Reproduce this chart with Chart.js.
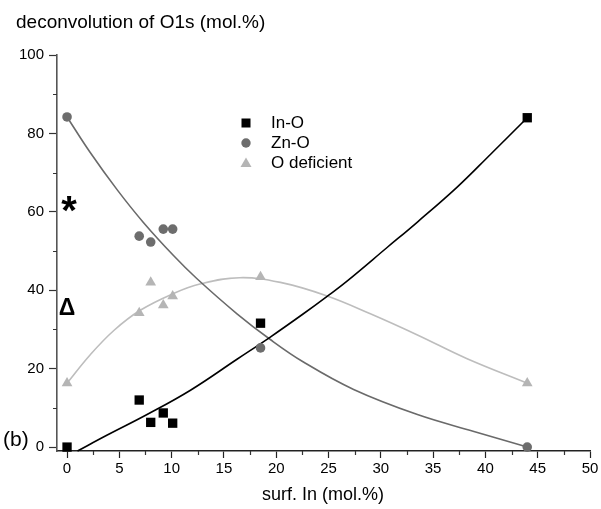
<!DOCTYPE html>
<html>
<head>
<meta charset="utf-8">
<script src="https://cdn.jsdelivr.net/npm/chart.js@4.4.1/dist/chart.umd.min.js"></script>
<style>
  html, body { margin: 0; padding: 0; background: #fff; }
  #wrap { width: 601px; height: 509px; position: relative; }
</style>
</head>
<body>
<div id="wrap"><canvas id="c" width="601" height="509"></canvas></div>
<script>
// ---- measured data (surf. In mol.%, O1s component mol.%) ----
const surfIn = [0, 6.9, 8.0, 9.2, 10.1, 18.5, 44.0];
const inO = [0, 12.0, 6.3, 8.7, 6.1, 31.6, 84.0];
const znO = [84.2, 53.8, 52.3, 55.6, 55.6, 25.3, 0];
const oDef = [16.3, 34.2, 42.0, 36.2, 38.5, 43.4, 16.3];

// ---- fitted curves, points ----
const inOFitX = [1.0, 3.8, 7.65, 11.8, 16.25, 19.4, 22.6, 24.9, 26.8, 30.6, 33.5, 37.3, 40.5, 44.0];
const inOFitY = [-1.0, 3.0, 8.3, 14.5, 22.4, 28.0, 34.0, 38.5, 42.4, 50.9, 57.4, 66.3, 74.7, 84.0];
const znOFitX = [0, 2.2, 4.8, 7.3, 10.2, 12.4, 16.25, 19.4, 22.6, 27.4, 33.5, 38.9, 44.0];
const znOFitY = [84.2, 75.2, 65.6, 57.3, 48.8, 43.0, 34.0, 27.5, 21.7, 14.7, 8.3, 4.0, 0];
const oDefFitX = [0, 2.2, 4.5, 7.0, 10.2, 12.7, 16.5, 20.4, 24.8, 29.0, 33.5, 38.2, 44.0];
const oDefFitY = [16.3, 23.5, 29.8, 34.9, 39.2, 41.6, 43.2, 42.0, 38.6, 34.0, 28.6, 22.6, 16.3];

// ---- axes ----
const xTicks = [0, 2.5, 5, 7.5, 10, 12.5, 15, 17.5, 20, 22.5, 25, 27.5, 30, 32.5, 35, 37.5, 40, 42.5, 45, 47.5, 50];
const yTicks = [0, 10, 20, 30, 40, 50, 60, 70, 80, 90, 100];

const seriesNames = ['In-O', 'Zn-O', 'O deficient'];
const colIn = '#000000', colZn = '#6d6d6d', colOd = '#b5b5b5';
const lineZn = '#6a6a6a', lineOd = '#bdbdbd';

const pts = (xs, ys) => xs.map((x, i) => ({ x: x, y: ys[i] }));
const FONT = '"Liberation Sans", Arial, sans-serif';

const overlay = {
  id: 'overlay',
  afterDraw(chart) {
    const ctx = chart.ctx;
    const xs = chart.scales.x, ys = chart.scales.y;
    ctx.save();
    // minor ticks (shorter)
    ctx.strokeStyle = '#333';
    ctx.lineWidth = 1.2;
    ctx.beginPath();
    yTicks.forEach(v => {
      if (v % 20 !== 0) {
        const p = Math.round(ys.getPixelForValue(v)) + 0.5;
        ctx.moveTo(xs.left - 4, p); ctx.lineTo(xs.left, p);
      }
    });
    xTicks.forEach(v => {
      if (v % 5 !== 0) {
        const p = Math.round(xs.getPixelForValue(v)) + 0.5;
        ctx.moveTo(p, ys.bottom); ctx.lineTo(p, ys.bottom + 4);
      }
    });
    ctx.stroke();

    ctx.fillStyle = '#000';
    ctx.textBaseline = 'middle';
    ctx.textAlign = 'left';
    ctx.font = '19px ' + FONT;
    ctx.fillText('deconvolution of O1s (mol.%)', 16, 23);
    ctx.textAlign = 'center';
    ctx.font = '18px ' + FONT;
    ctx.fillText('surf. In (mol.%)', 323, 495);
    ctx.textAlign = 'left';
    ctx.font = '21px ' + FONT;
    ctx.fillText('(b)', 3, 440);
    ctx.font = 'bold 40px ' + FONT;
    ctx.textAlign = 'center';
    ctx.fillText('*', 69, 213);
    ctx.font = 'bold 23px ' + FONT;
    ctx.fillText('\u0394', 67, 309);

    // legend
    const lx = 246, ly = [123, 143, 163];
    ctx.fillStyle = colIn;
    ctx.fillRect(lx - 4.5, ly[0] - 4.5, 9, 9);
    ctx.fillStyle = colZn;
    ctx.beginPath(); ctx.arc(lx, ly[1], 4.7, 0, Math.PI * 2); ctx.fill();
    ctx.fillStyle = colOd;
    ctx.beginPath();
    ctx.moveTo(lx, ly[2] - 5.5); ctx.lineTo(lx + 5.5, ly[2] + 4); ctx.lineTo(lx - 5.5, ly[2] + 4);
    ctx.closePath(); ctx.fill();
    ctx.fillStyle = '#000';
    ctx.textAlign = 'left';
    ctx.font = '17px ' + FONT;
    seriesNames.forEach((n, i) => ctx.fillText(n, 271, ly[i]));
    ctx.restore();
  }
};

new Chart(document.getElementById('c'), {
  type: 'scatter',
  data: {
    datasets: [
      { label: 'In-O fit', data: pts(inOFitX, inOFitY), showLine: true, borderColor: '#000', borderWidth: 1.6,
        pointRadius: 0, tension: 0.4, order: 5 },
      { label: 'Zn-O fit', data: pts(znOFitX, znOFitY), showLine: true, borderColor: lineZn, borderWidth: 1.6,
        pointRadius: 0, tension: 0.4, order: 5 },
      { label: 'O deficient fit', data: pts(oDefFitX, oDefFitY), showLine: true, borderColor: lineOd, borderWidth: 1.6,
        pointRadius: 0, tension: 0.4, order: 5 },
      { label: seriesNames[0], data: pts(surfIn, inO), pointStyle: 'rect', pointRadius: 6.6,
        backgroundColor: colIn, borderColor: colIn, borderWidth: 0, order: 1 },
      { label: seriesNames[1], data: pts(surfIn, znO), pointStyle: 'circle', pointRadius: 4.8,
        backgroundColor: colZn, borderColor: colZn, borderWidth: 0, order: 2 },
      { label: seriesNames[2], data: pts(surfIn, oDef), pointStyle: 'triangle', pointRadius: 6.2,
        backgroundColor: colOd, borderColor: colOd, borderWidth: 0, order: 3 }
    ]
  },
  options: {
    responsive: false,
    animation: false,
    clip: false,
    layout: { padding: { top: 55, right: 11, left: 0, bottom: 0 } },
    plugins: { legend: { display: false }, tooltip: { enabled: false }, title: { display: false } },
    scales: {
      x: {
        type: 'linear', min: -0.96, max: 50,
        afterBuildTicks: s => { s.ticks = xTicks.map(v => ({ value: v })); },
        afterFit: s => { s.height = 58; },
        ticks: {
          autoSkip: false, maxRotation: 0, padding: 2,
          color: '#000', font: { family: FONT, size: 15 },
          callback: v => (v % 5 === 0 ? String(v) : '')
        },
        grid: { drawOnChartArea: false, drawTicks: true, tickLength: 7, color: '#222',
          tickWidth: c => (c.tick && c.tick.value % 5 === 0 ? 1.2 : 0) },
        border: { display: true, color: '#222', width: 1.6 }
      },
      y: {
        type: 'linear', min: -1, max: 100,
        afterBuildTicks: s => { s.ticks = yTicks.map(v => ({ value: v })); },
        afterFit: s => { s.width = 57; },
        ticks: {
          autoSkip: false, padding: 5,
          color: '#000', font: { family: FONT, size: 15 },
          callback: v => (v % 20 === 0 ? String(v) : '')
        },
        grid: { drawOnChartArea: false, drawTicks: true, tickLength: 8, color: '#333',
          tickWidth: c => (c.tick && c.tick.value % 20 === 0 ? 1.2 : 0) },
        border: { display: true, color: '#555', width: 1.6 }
      }
    }
  },
  plugins: [overlay]
});
</script>
</body>
</html>
